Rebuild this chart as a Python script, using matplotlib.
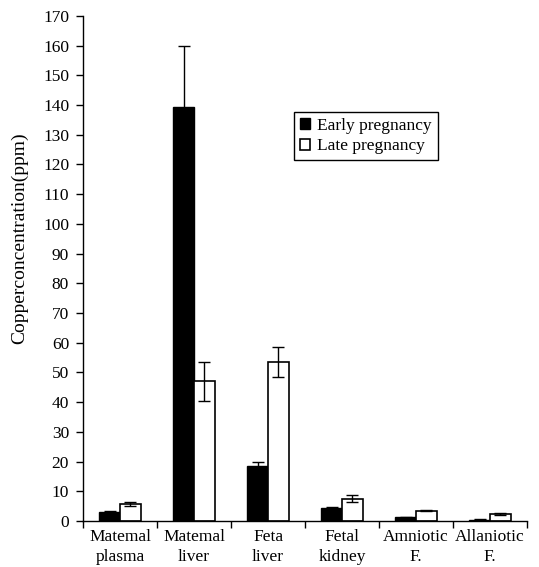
import numpy as np
import matplotlib
matplotlib.use("Agg")
import matplotlib.pyplot as plt

# Data
categories = ["Matemal\nplasma", "Matemal\nliver", "Feta\nliver", "Fetal\nkidney", "Amniotic\nF.", "Allaniotic\nF."]
early = [3.1, 139.5, 18.5, 4.5, 1.3, 0.5]
early_err = [0.3, 20.5, 1.4, 0.3, 0.1, 0.1]
late = [5.8, 47.0, 53.5, 7.5, 3.5, 2.4]
late_err = [0.7, 6.5, 5.0, 1.2, 0.1, 0.3]

plt.rcParams["font.family"] = ["Liberation Serif", "DejaVu Serif"]

fig = plt.figure(figsize=(5.39, 5.67), dpi=100)
ax = fig.add_axes([0.154, 0.081, 0.824, 0.891])

x = np.arange(len(categories))
width = 0.28

ax.bar(x - width / 2, early, width, color="black", edgecolor="black", linewidth=1.0,
       yerr=early_err, error_kw=dict(ecolor="black", elinewidth=1.0, capsize=4, capthick=1.0),
       label="Early pregnancy")
ax.bar(x + width / 2, late, width, color="white", edgecolor="black", linewidth=1.2,
       yerr=late_err, error_kw=dict(ecolor="black", elinewidth=1.0, capsize=4, capthick=1.0),
       label="Late pregnancy")

ax.set_xlim(-0.5, len(categories) - 0.5)
ax.set_ylim(0, 170)
ax.set_yticks(np.arange(0, 171, 10))

ax.set_xticks(x)
ax.set_xticklabels(categories, fontsize=12.5, linespacing=1.3)
ax.set_xticks(np.arange(-0.5, len(categories)), minor=True)
ax.tick_params(axis="x", which="major", length=0, pad=6)
ax.tick_params(axis="x", which="minor", length=5, width=1.0, direction="out")
ax.tick_params(axis="y", length=5, width=1.0, direction="out", labelsize=12.5, pad=5)

for side in ["top", "right"]:
    ax.spines[side].set_visible(False)
for side in ["left", "bottom"]:
    ax.spines[side].set_linewidth(1.0)

ax.set_ylabel("Copperconcentration(ppm)", fontsize=14)
ax.yaxis.set_label_coords(-0.124, 0.56)

leg = ax.legend(loc="upper left", bbox_to_anchor=(0.475, 0.81), fontsize=12.5,
                frameon=True, fancybox=False, edgecolor="black", framealpha=1,
                handlelength=0.6, handleheight=0.6, handletextpad=0.4,
                borderpad=0.35, labelspacing=0.25, borderaxespad=0)
leg.get_frame().set_linewidth(1.0)

fig.savefig("out.png", dpi=100)
